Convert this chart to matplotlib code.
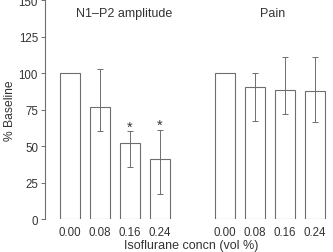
import matplotlib
matplotlib.use("Agg")
import matplotlib.pyplot as plt
import numpy as np

plt.rcParams["font.family"] = ["Liberation Sans", "DejaVu Sans"]

conc_labels = ["0.00", "0.08", "0.16", "0.24"]
groups = ["N1\u2013P2 amplitude", "Pain"]
amp_mean = [100, 77, 52, 41]
amp_low = [100, 60, 35.5, 17.5]
amp_high = [100, 102.5, 60, 61]
pain_mean = [100, 90.5, 88.5, 87.5]
pain_low = [100, 67, 72, 66.5]
pain_high = [100, 100, 111, 111]
significant = [False, False, True, True]

edge = "#6e6e6e"
txt = "#333333"

fig = plt.figure(figsize=(3.33, 2.53), dpi=100, facecolor="white")
ax = fig.add_axes([0.135, 0.130, 0.865, 0.866])

x_amp = np.arange(4)
x_pain = np.arange(4) + 5.15
w = 0.67

for xs, mean, lo, hi in [(x_amp, amp_mean, amp_low, amp_high),
                         (x_pain, pain_mean, pain_low, pain_high)]:
    mean = np.array(mean)
    yerr = np.vstack([mean - np.array(lo), np.array(hi) - mean])
    ax.bar(xs, mean, width=w, facecolor="white", edgecolor=edge, linewidth=0.8)
    has_err = (yerr.sum(axis=0) > 0)
    ax.errorbar(xs[has_err], mean[has_err], yerr=yerr[:, has_err], fmt="none",
                ecolor=edge, elinewidth=0.7, capsize=2.2, capthick=0.7)

for xi, hi, sig in zip(x_amp, amp_high, significant):
    if sig:
        ax.text(xi, hi - 1.5, "*", ha="center", va="bottom", fontsize=10.5, color=txt)

ax.text(1.8, 141, groups[0], ha="center", va="center", fontsize=9, color=txt)
ax.text(6.75, 141, groups[1], ha="center", va="center", fontsize=9, color=txt)

ax.set_xlim(-0.83, 8.75)
ax.set_ylim(0, 150)
ax.set_yticks([0, 25, 50, 75, 100, 125, 150])
ax.set_xticks(list(x_amp) + list(x_pain))
ax.set_xticklabels(conc_labels + conc_labels)
ax.tick_params(axis="x", length=0, pad=5, labelsize=8.3, labelcolor=txt)
ax.tick_params(axis="y", length=3, width=0.7, color=edge, pad=2, labelsize=8.3, labelcolor=txt)
for s in ["top", "right", "bottom"]:
    ax.spines[s].set_visible(False)
ax.spines["left"].set_color(edge)
ax.spines["left"].set_linewidth(0.8)

ax.set_ylabel("% Baseline", fontsize=8.7, color=txt, labelpad=2)
fig.text(0.575, 0.028, "Isoflurane concn (vol %)", ha="center", va="center", fontsize=9, color=txt)

fig.savefig("out.png", dpi=100, facecolor="white")
